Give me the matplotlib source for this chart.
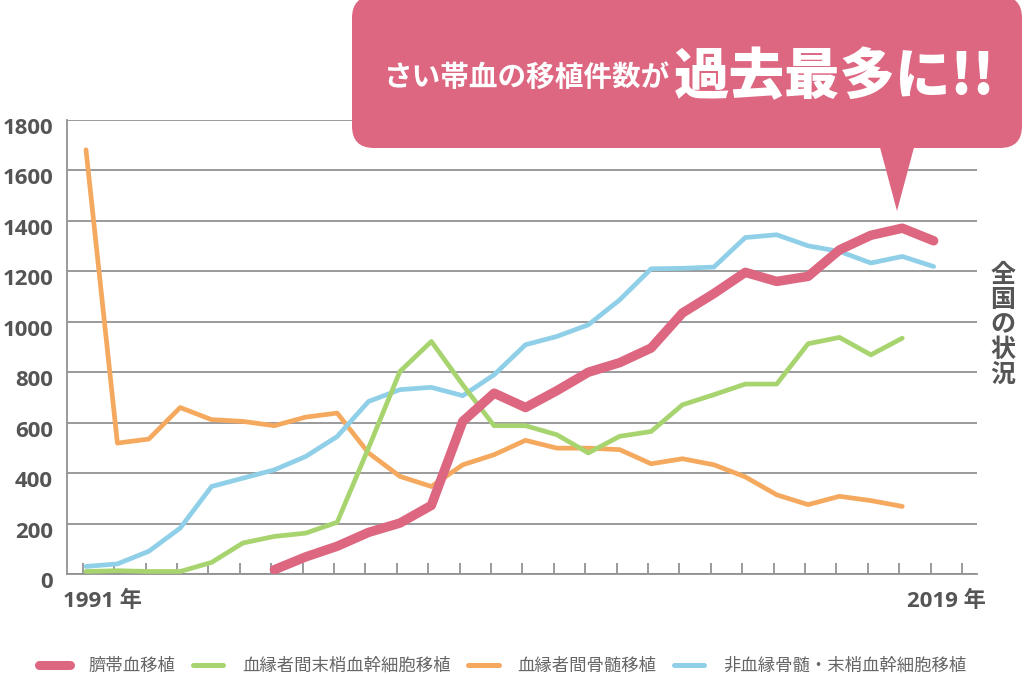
import matplotlib
matplotlib.use("Agg")
import matplotlib.pyplot as plt
from matplotlib.lines import Line2D
from matplotlib.patches import FancyBboxPatch, Polygon
import matplotlib.transforms as mtransforms
import numpy as np

# ---------------- data ----------------
series_names = ["臍帯血移植", "血縁者間末梢血幹細胞移植", "血縁者間骨髄移植", "非血縁骨髄・末梢血幹細胞移植"]

cord_years = list(range(1997, 2019))
cord = [17, 68, 110, 165, 202, 272, 605, 717, 660, 727, 800, 838, 896, 1035,
        1112, 1196, 1160, 1180, 1285, 1343, 1371, 1321]

pbsct_years = list(range(1991, 2018))
pbsct = [10, 13, 10, 10, 46, 123, 149, 162, 205, 500, 803, 922, 750, 588, 588,
         552, 480, 546, 565, 671, 711, 753, 753, 913, 938, 869, 935]

bm_years = list(range(1991, 2018))
bm = [1682, 519, 535, 660, 612, 605, 588, 622, 638, 480, 387, 347, 433, 473, 530,
      499, 499, 493, 437, 457, 433, 385, 314, 275, 308, 291, 268]

unrel_years = list(range(1991, 2019))
unrel = [30, 40, 90, 182, 347, 380, 413, 466, 545, 684, 731, 740, 707, 790, 909,
         942, 988, 1087, 1210, 1212, 1217, 1334, 1345, 1301, 1279, 1233, 1259, 1219]

tick_years = list(range(1991, 2020))
y_ticks = [0, 200, 400, 600, 800, 1000, 1200, 1400, 1600, 1800]
first_label = "1991 年"
last_label = "2019 年"
side_label = "全国の状況"
bubble_small = "さい帯血の移植件数が"
bubble_big = "過去最多に!!"

# ---------------- style ----------------
PINK = "#DD6681"
GREEN = "#A8D46F"
ORANGE = "#F5A95E"
BLUE = "#8FD0E8"
GRID = "#929292"
TXT = "#555555"
FAM = ["Open Sans", "Noto Sans CJK JP", "DejaVu Sans"]
CJK = ["Noto Sans CJK JP", "DejaVu Sans"]

plt.rcParams["font.family"] = FAM

W, H = 1024, 674
fig = plt.figure(figsize=(W / 100, H / 100), dpi=100)
fig.patch.set_facecolor("white")

ax = fig.add_axes([67 / W, (H - 574) / H, (977 - 67) / W, (574 - 120) / H])
ax.set_xlim(1990.395, 2019.38)
ax.set_ylim(0, 1800)

ax.plot(bm_years, bm, color=ORANGE, lw=3.4, solid_capstyle="round", solid_joinstyle="round", zorder=3)
ax.plot(unrel_years, unrel, color=BLUE, lw=3.4, solid_capstyle="round", solid_joinstyle="round", zorder=4)
ax.plot(pbsct_years, pbsct, color=GREEN, lw=3.4, solid_capstyle="round", solid_joinstyle="round", zorder=5)
ax.plot(cord_years, cord, color=PINK, lw=6.8, solid_capstyle="round", solid_joinstyle="round", zorder=6)

for s in ["top", "right"]:
    ax.spines[s].set_visible(False)
for s in ["left", "bottom"]:
    ax.spines[s].set_color(GRID)
    ax.spines[s].set_linewidth(1.3)

ax.set_yticks(y_ticks)
ax.set_yticklabels([str(v) for v in y_ticks])
ax.yaxis.grid(True, color=GRID, lw=1.3)
ax.set_axisbelow(True)
ax.tick_params(axis="y", length=0, pad=10, labelsize=16, labelcolor=TXT)
for lab in ax.get_yticklabels():
    lab.set_fontweight("bold")
    lab.set_transform(lab.get_transform() + mtransforms.ScaledTranslation(0, -6 / 100, fig.dpi_scale_trans))

ax.set_xticks([y - 0.1 for y in tick_years])
ax.set_xticklabels([])
ax.tick_params(axis="x", direction="in", length=8, width=1.3, color=GRID)

tr = mtransforms.blended_transform_factory(ax.transData, ax.transAxes)
ax.text(tick_years[0] - 0.74, -0.061, first_label, transform=tr, ha="left", va="center",
        fontsize=16, fontweight="bold", color=TXT, family=FAM)
ax.text(tick_years[-1] + 0.66, -0.061, last_label, transform=tr, ha="right", va="center",
        fontsize=16, fontweight="bold", color=TXT, family=FAM)

# ---------------- overlay (bubble, side text) ----------------
ov = fig.add_axes([0, 0, 1, 1], zorder=10)
ov.set_xlim(0, W)
ov.set_ylim(H, 0)
ov.axis("off")
ov.patch.set_alpha(0)

bub = FancyBboxPatch((352, -4), 1022 - 352, 152 - 0, boxstyle="round,pad=0,rounding_size=22",
                     facecolor=PINK, edgecolor="none")
ov.add_patch(bub)
ov.add_patch(Polygon([[878, 140], [916, 140], [897, 211]], closed=True, facecolor=PINK, edgecolor="none"))

ov.text(670, 77, bubble_small, ha="right", va="center", color="white", fontsize=20.6,
        fontweight="bold", family=CJK)
ov.text(674, 78, bubble_big, ha="left", va="center", color="white", fontsize=40,
        fontweight="heavy", family=CJK)

ov.text(1003, 325, "\n".join(side_label), ha="center", va="center", color=TXT, fontsize=18,
        fontweight="bold", family=CJK, linespacing=1.05)

# ---------------- legend ----------------
handles = [
    Line2D([], [], color=PINK, lw=6.5, solid_capstyle="round"),
    Line2D([], [], color=GREEN, lw=3.6, solid_capstyle="round"),
    Line2D([], [], color=ORANGE, lw=3.6, solid_capstyle="round"),
    Line2D([], [], color=BLUE, lw=3.6, solid_capstyle="round"),
]
leg = fig.legend(handles, series_names, loc="center", bbox_to_anchor=(503 / W, (H - 666) / H),
                 ncol=4, frameon=False, handlelength=1.75, handletextpad=1.1,
                 columnspacing=1.0, prop={"family": CJK, "size": 12.5})
for t in leg.get_texts():
    t.set_color("#666666")

fig.savefig("out.png", dpi=100)
